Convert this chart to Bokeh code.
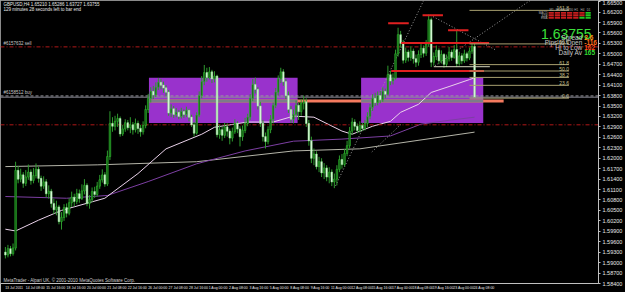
from bokeh.plotting import figure
from bokeh.models import ColumnDataSource, FixedTicker, Range1d, Label
from bokeh.embed import file_html
from bokeh.resources import INLINE
from bokeh.core.properties import value

# ---------------- data ----------------
title_line = "GBPUSD,H4  1.65210 1.65286 1.63727 1.63755"
timer_line = "129 minutes 28 seconds left to bar end"
copyright_line = "MetaTrader - Alpari UK, \u00a9 2001-2010 MetaQuotes Software Corp."

first_open = 1.5930
closes = [1.5922, 1.5940, 1.5926, 1.5942, 1.6165, 1.6140, 1.6152, 1.6128, 1.6146, 1.6160,
          1.6136, 1.6150, 1.6168, 1.6142, 1.6120, 1.6132, 1.6098, 1.6105, 1.6070, 1.6052,
          1.6060, 1.6018, 1.6030, 1.6058, 1.6042, 1.6072, 1.6088, 1.6076, 1.6098, 1.6084,
          1.6106, 1.6122, 1.6070, 1.6082, 1.6104, 1.6096, 1.6120, 1.6138, 1.6152, 1.6126,
          1.6205, 1.6300, 1.6292, 1.6306, 1.6314, 1.6270, 1.6284, 1.6302, 1.6288, 1.6296,
          1.6282, 1.6300, 1.6286, 1.6276, 1.6294, 1.6340, 1.6372, 1.6392, 1.6382, 1.6404,
          1.6418, 1.6410, 1.6402, 1.6390, 1.6330, 1.6342, 1.6326, 1.6332, 1.6320, 1.6334,
          1.6326, 1.6338, 1.6318, 1.6296, 1.6272, 1.6324, 1.6380, 1.6420, 1.6446, 1.6432,
          1.6448, 1.6428, 1.6436, 1.6268, 1.6282, 1.6266, 1.6290, 1.6278, 1.6258, 1.6276,
          1.6300, 1.6284, 1.6262, 1.6280, 1.6300, 1.6318, 1.6372, 1.6412, 1.6398, 1.6350,
          1.6300, 1.6262, 1.6248, 1.6282, 1.6312, 1.6352, 1.6390, 1.6428, 1.6448, 1.6420,
          1.6380, 1.6340, 1.6312, 1.6326, 1.6352, 1.6334, 1.6358, 1.6362, 1.6300, 1.6250,
          1.6200, 1.6212, 1.6176, 1.6190, 1.6158, 1.6172, 1.6146, 1.6160, 1.6132, 1.6140,
          1.6168, 1.6196, 1.6182, 1.6214, 1.6236, 1.6278, 1.6304, 1.6292, 1.6280, 1.6294,
          1.6286, 1.6300, 1.6320, 1.6346, 1.6372, 1.6360, 1.6380, 1.6368, 1.6392, 1.6384,
          1.6440, 1.6422, 1.6430, 1.6500, 1.6555, 1.6530, 1.6482, 1.6505, 1.6490, 1.6508,
          1.6486, 1.6476, 1.6498, 1.6516, 1.6502, 1.6528, 1.6598, 1.6476, 1.6492, 1.6510,
          1.6480, 1.6498, 1.6470, 1.6486, 1.6505, 1.6490, 1.6512, 1.6472, 1.6494, 1.6480,
          1.6500, 1.6488, 1.6508, 1.6521, 1.63755]
highs = [1.5945, 1.5951, 1.5948, 1.5955, 1.6190, 1.6178, 1.6170, 1.6160, 1.6166, 1.6182,
         1.6168, 1.6172, 1.6185, 1.6176, 1.6150, 1.6148, 1.6140, 1.6122, 1.6112, 1.6084,
         1.6078, 1.6066, 1.6045, 1.6068, 1.6070, 1.6085, 1.6104, 1.6098, 1.6112, 1.6110,
         1.6125, 1.6140, 1.6128, 1.6094, 1.6116, 1.6118, 1.6132, 1.6152, 1.6168, 1.6160,
         1.6222, 1.6335, 1.6318, 1.6322, 1.6328, 1.6320, 1.6296, 1.6312, 1.6310, 1.6318,
         1.6304, 1.6314, 1.6308, 1.6296, 1.6306, 1.6352, 1.6385, 1.6404, 1.6408, 1.6418,
         1.6430, 1.6428, 1.6420, 1.6410, 1.6396, 1.6355, 1.6350, 1.6344, 1.6338, 1.6345,
         1.6340, 1.6348, 1.6342, 1.6325, 1.6304, 1.6332, 1.6392, 1.6436, 1.6468, 1.6460,
         1.6462, 1.6454, 1.6450, 1.6440, 1.6296, 1.6290, 1.6302, 1.6300, 1.6285, 1.6288,
         1.6312, 1.6306, 1.6292, 1.6294, 1.6316, 1.6328, 1.6384, 1.6428, 1.6432, 1.6404,
         1.6362, 1.6310, 1.6274, 1.6292, 1.6324, 1.6360, 1.6402, 1.6438, 1.6460, 1.6456,
         1.6428, 1.6392, 1.6350, 1.6340, 1.6366, 1.6360, 1.6370, 1.6380, 1.6372, 1.6310,
         1.6262, 1.6228, 1.6220, 1.6204, 1.6200, 1.6186, 1.6180, 1.6174, 1.6168, 1.6156,
         1.6180, 1.6208, 1.6212, 1.6226, 1.6250, 1.6290, 1.6316, 1.6312, 1.6300, 1.6306,
         1.6302, 1.6310, 1.6332, 1.6356, 1.6384, 1.6388, 1.6392, 1.6394, 1.6404, 1.6400,
         1.6466, 1.6452, 1.6444, 1.6512, 1.6575, 1.6566, 1.6540, 1.6518, 1.6512, 1.6522,
         1.6515, 1.6498, 1.6510, 1.6528, 1.6524, 1.6540, 1.6613, 1.6604, 1.6504, 1.6524,
         1.6516, 1.6510, 1.6502, 1.6498, 1.6520, 1.6512, 1.6525, 1.6568, 1.6506, 1.6502,
         1.6512, 1.6506, 1.6518, 1.6528, 1.65286]
lows = [1.5912, 1.5915, 1.5918, 1.5920, 1.5935, 1.6128, 1.6131, 1.6115, 1.6120, 1.6138,
        1.6124, 1.6128, 1.6142, 1.6130, 1.6106, 1.6112, 1.6088, 1.6084, 1.6058, 1.6040,
        1.6036, 1.6010, 1.5995, 1.6020, 1.6030, 1.6036, 1.6060, 1.6062, 1.6068, 1.6072,
        1.6080, 1.6096, 1.6062, 1.6055, 1.6074, 1.6086, 1.6090, 1.6112, 1.6130, 1.6118,
        1.6120, 1.6195, 1.6276, 1.6280, 1.6290, 1.6262, 1.6264, 1.6276, 1.6280, 1.6272,
        1.6268, 1.6274, 1.6270, 1.6262, 1.6268, 1.6286, 1.6330, 1.6360, 1.6370, 1.6376,
        1.6396, 1.6398, 1.6388, 1.6378, 1.6322, 1.6318, 1.6316, 1.6318, 1.6312, 1.6314,
        1.6316, 1.6318, 1.6306, 1.6290, 1.6262, 1.6268, 1.6318, 1.6372, 1.6410, 1.6420,
        1.6426, 1.6416, 1.6418, 1.6260, 1.6256, 1.6250, 1.6258, 1.6262, 1.6240, 1.6248,
        1.6270, 1.6272, 1.6234, 1.6250, 1.6272, 1.6292, 1.6310, 1.6364, 1.6386, 1.6340,
        1.6290, 1.6248, 1.6228, 1.6240, 1.6272, 1.6300, 1.6344, 1.6380, 1.6416, 1.6408,
        1.6370, 1.6330, 1.6302, 1.6300, 1.6318, 1.6310, 1.6322, 1.6340, 1.6290, 1.6236,
        1.6186, 1.6180, 1.6168, 1.6160, 1.6146, 1.6140, 1.6134, 1.6128, 1.6120, 1.6114,
        1.6122, 1.6160, 1.6170, 1.6176, 1.6206, 1.6228, 1.6268, 1.6280, 1.6272, 1.6274,
        1.6278, 1.6280, 1.6290, 1.6312, 1.6336, 1.6350, 1.6352, 1.6358, 1.6362, 1.6372,
        1.6380, 1.6410, 1.6412, 1.6426, 1.6492, 1.6518, 1.6472, 1.6474, 1.6478, 1.6480,
        1.6472, 1.6462, 1.6466, 1.6488, 1.6490, 1.6494, 1.6520, 1.6462, 1.6466, 1.6482,
        1.6470, 1.6472, 1.6460, 1.6462, 1.6478, 1.6480, 1.6486, 1.6462, 1.6466, 1.6470,
        1.6474, 1.6478, 1.6482, 1.6500, 1.63727]

time_labels = ["13 Jul 2011", "14 Jul 08:00", "15 Jul 16:00", "18 Jul 16:00", "20 Jul 00:00",
               "21 Jul 08:00", "22 Jul 16:00", "26 Jul 00:00", "27 Jul 08:00", "28 Jul 16:00",
               "1 Aug 00:00", "2 Aug 08:00", "3 Aug 16:00", "5 Aug 00:00", "8 Aug 08:00",
               "9 Aug 16:00", "11 Aug 00:00", "12 Aug 08:00", "15 Aug 16:00", "17 Aug 00:00",
               "18 Aug 08:00", "19 Aug 16:00", "23 Aug 00:00", "24 Aug 08:00"]
time_label_step = 8

price_ticks = [1.5840, 1.5870, 1.5900, 1.5930, 1.5960, 1.5990, 1.6020, 1.6050, 1.6080, 1.6110,
               1.6140, 1.6170, 1.6200, 1.6230, 1.6260, 1.6290, 1.6320, 1.6350, 1.6380, 1.6410,
               1.6440, 1.6470, 1.6500, 1.6530, 1.6560, 1.6590, 1.6620, 1.6650]

# moving averages (bar, value)
ma_fast_bars = [0, 4, 13, 22, 39, 52, 63, 77, 82, 95, 105, 113, 121, 132, 136, 144, 151, 155, 162, 167, 174, 182, 184]
ma_fast_vals = [1.5996, 1.5991, 1.6022, 1.6050, 1.6085, 1.6156, 1.6227, 1.6269, 1.6289, 1.6304, 1.6304, 1.6321,
                1.6318, 1.6278, 1.6269, 1.6292, 1.6306, 1.6332, 1.6355, 1.6389, 1.6406, 1.6426, 1.6431]
ma_mid_bars = [0, 24, 40, 56, 75, 94, 113, 132, 151, 163, 174, 184]
ma_mid_vals = [1.6090, 1.6085, 1.6093, 1.6133, 1.6184, 1.6221, 1.6249, 1.6255, 1.6264, 1.6298, 1.6309, 1.6318]
ma_slow_bars = [0, 36, 75, 113, 139, 184]
ma_slow_vals = [1.6176, 1.6181, 1.6190, 1.6221, 1.6227, 1.6275]

# supply / demand zones
zone_left = [56.3, 139.5]
zone_right = [114.6, 187.4]
zone_top = [1.6431, 1.6431]
zone_bottom = [1.6301, 1.6301]
band_left, band_right = 56.3, 195.4
band_top, band_bottom = 1.6369, 1.6360

# order lines
sell_level = 1.6520
buy_level = 1.6379
stop_level = 1.6296
bid_price = 1.63755
sell_label = "#6157632 sell"
buy_label = "#6158512 buy"

# red swing markers
mark_price = [1.6611, 1.6588, 1.6568, 1.6531, 1.6451]
mark_start = [163.6, 150.1, 173.6, 155.2, 151.3]
mark_end = [171.6, 158.2, 181.6, 189.7, 187.7]
light_price, light_start, light_end = 1.6463, 168.0, 190.0

# dotted trend lines
trend_x0 = [129.5, 168.5, 166.7, 143.7]
trend_y0 = [1.6121, 1.6466, 1.6611, 1.6218]
trend_x1 = [164.0, 205.7, 192.3, 155.2]
trend_y1 = [1.6653, 1.6653, 1.6511, 1.6298]

# fibonacci retracement
fib_ratios = [0.0, 23.6, 38.2, 50.0, 61.8, 100.0, 161.8]
fib_names = ["0.0", "23.6", "38.2", "50.0", "61.8", "100.0", "161.8"]
fib_low, fib_high = 1.63727, 1.65286
fib_start, fib_end = 182.0, 221.0

# info panel
tf_names = ["M1", "M5", "M15", "M30", "H1", "H4", "D1"]
row_names = ["MACD", "STR", "EMA"]
signal_rows = [[0, 0, 0, 0, 0, 0, 1], [0, 0, 0, 0, 0, 0, 1], [0, 0, 0, 0, 0, 1, 1]]
info_names = ["Spread", "Pips to Open", "Hi to Low", "Daily Av"]
info_vals = ["2.6", "-116", "162", "165"]
info_cols = ["#ff9a1a", "#ff6a1a", "#ff4a1a", "#33dd33"]

# ---------------- drawing ----------------
FONT = "Liberation Sans"
x_lo, x_hi = -1.92, 232.6
y_lo, y_hi = 1.5840, 1.66533

def X(px):   # reference-pixel helper for decorations
    return (px - 5) / 2.61

def Y(py):
    return y_lo + (286 - py) * (y_hi - y_lo) / 286.0

p = figure(width=625, height=292, output_backend="svg", toolbar_location=None,
           x_range=Range1d(x_lo, x_hi), y_range=Range1d(y_lo, y_hi),
           y_axis_location="right", min_border=0)
p.background_fill_color = "black"
p.border_fill_color = "black"
p.outline_line_color = "#8a8a8a"
p.grid.visible = False

n = len(closes)
opens = [first_open] + closes[:-1]
idx = list(range(n))

# zones
p.quad(left=zone_left, right=zone_right, top=zone_top, bottom=zone_bottom,
       fill_color="#9932CC", line_color=None)
# band (salmon outside zones, grey where overlapped)
p.quad(left=[band_left], right=[band_right], top=[band_top], bottom=[band_bottom],
       fill_color="#f47a5f", line_color=None)
ov_l, ov_r = [], []
for zl, zr in zip(zone_left, zone_right):
    l, r = max(zl, band_left), min(zr, band_right)
    if r > l:
        ov_l.append(l); ov_r.append(r)
p.quad(left=ov_l, right=ov_r, top=[band_top] * len(ov_l), bottom=[band_bottom] * len(ov_l),
       fill_color="#7c7c88", line_color=None)

# moving averages
p.line(ma_slow_bars, ma_slow_vals, line_color="#b4b4a8", line_width=1)
p.line(ma_mid_bars, ma_mid_vals, line_color="#7d3fa3", line_width=1)
p.line(ma_fast_bars, ma_fast_vals, line_color="#ead2ea", line_width=1)

# dotted trend lines
p.segment(x0=trend_x0, y0=trend_y0, x1=trend_x1, y1=trend_y1,
          line_color="#9a9a9a", line_dash="1 2", line_width=1)

# order lines
p.line([x_lo, x_hi], [sell_level, sell_level], line_color="#b01818", line_dash="4 2 1 2", line_width=1)
p.line([x_lo, x_hi], [stop_level, stop_level], line_color="#b01818", line_dash="4 2 1 2", line_width=1)
p.line([x_lo, x_hi], [buy_level, buy_level], line_color="#9a9aa0", line_dash="3 2", line_width=1)
p.line([x_lo, x_hi], [bid_price, bid_price], line_color="#8c8c98", line_width=1)

# candles
bull = [c >= o for o, c in zip(opens, closes)]
hi_fix = [max(h, o, c) for h, o, c in zip(highs, opens, closes)]
lo_fix = [min(l, o, c) for l, o, c in zip(lows, opens, closes)]
src = ColumnDataSource(dict(
    x=idx, high=hi_fix, low=lo_fix,
    top=[max(o, c) + 0.00002 for o, c in zip(opens, closes)],
    bottom=[min(o, c) - 0.00002 for o, c in zip(opens, closes)],
    fill=["#145a14" if b else "#eaffea" for b in bull],
    line=["#2fbf2f" if b else "#8fe08f" for b in bull],
))
p.segment(x0="x", y0="low", x1="x", y1="high", source=src, line_color="#2e9a2e", line_width=1)
p.vbar(x="x", width=0.62, top="top", bottom="bottom", source=src,
       fill_color="fill", line_color="line", line_width=0.6)

# red swing markers and light level
p.segment(x0=mark_start, y0=mark_price, x1=mark_end, y1=mark_price, line_color="#e02020", line_width=2)
p.segment(x0=[light_start], y0=[light_price], x1=[light_end], y1=[light_price],
          line_color="#d8d8c0", line_width=1)

# fibonacci
fib_levels = [fib_low + r / 100.0 * (fib_high - fib_low) for r in fib_ratios]
p.segment(x0=[fib_start] * len(fib_levels), y0=fib_levels, x1=[fib_end] * len(fib_levels), y1=fib_levels,
          line_color="#a8a070", line_width=1)
p.text(x=[fib_end] * len(fib_levels), y=fib_levels, text=fib_names, text_align="right",
       text_baseline="bottom", text_font_size="5px", text_color="#c8c090", text_font=value(FONT))

# info panel: signal table
cw = 6.3 / 2.61
for k, name in enumerate(tf_names):
    p.add_layout(Label(x=X(561) + (k + 0.5) * cw, y=Y(9.5), text=name, text_font_size="3px",
                       text_color="#b0b0b0", text_align="center", text_baseline="middle", text_font=FONT))
for r, (rname, row) in enumerate(zip(row_names, signal_rows)):
    yc = 12.5 + 2.5 * r
    p.add_layout(Label(x=X(560), y=Y(yc), text=rname, text_font_size="3px", text_color="#b0b0b0",
                       text_align="right", text_baseline="middle", text_font=FONT))
    p.quad(left=[X(561) + k * cw for k in range(len(row))],
           right=[X(561) + (k + 0.85) * cw for k in range(len(row))],
           top=[Y(yc - 1.0)] * len(row), bottom=[Y(yc + 1.0)] * len(row),
           fill_color=["#22c822" if s else "#c81e1e" for s in row], line_color=None)

p.add_layout(Label(x=X(605), y=Y(33.5), text=f"{bid_price:.5f}", text_font_size="14px",
                   text_color="#3be03b", text_align="right", text_baseline="alphabetic", text_font=FONT))
for k, (nm, vl, cl) in enumerate(zip(info_names, info_vals, info_cols)):
    yy = Y(37 + 5.1 * k)
    p.add_layout(Label(x=X(595.5), y=yy, text=nm, text_font_size="6.5px", text_color="#c8c8c8",
                       text_align="right", text_baseline="middle", text_font=FONT))
    p.add_layout(Label(x=X(597.5), y=yy, text=vl, text_font_size="6.5px", text_color=cl,
                       text_align="left", text_baseline="middle", text_font=FONT, text_font_style="bold"))

# texts on the left
p.add_layout(Label(x=X(3), y=Y(4), text=title_line, text_font_size="4.5px", text_color="#e8e8e8",
                   text_baseline="middle", text_font=FONT))
p.add_layout(Label(x=X(3), y=Y(9.5), text=timer_line, text_font_size="4.5px", text_color="#e8e8e8",
                   text_baseline="middle", text_font=FONT))
p.add_layout(Label(x=X(3), y=sell_level, y_offset=1, text=sell_label, text_font_size="4.5px",
                   text_color="#c8c8c8", text_baseline="bottom", text_font=FONT))
p.add_layout(Label(x=X(3), y=buy_level, y_offset=1, text=buy_label, text_font_size="4.5px",
                   text_color="#c8c8c8", text_baseline="bottom", text_font=FONT))
p.add_layout(Label(x=X(3), y=Y(282.5), text=copyright_line, text_font_size="4.5px", text_color="#d0d0d0",
                   text_baseline="middle", text_font=FONT))

# axes
ya = p.yaxis[0]
ya.ticker = FixedTicker(ticks=price_ticks)
ya.major_label_overrides = {t: f"{t:.5f}" for t in price_ticks}
ya.major_label_text_font_size = "5.5px"
ya.major_label_text_color = "#e8e8e8"
ya.major_label_text_font = FONT
ya.axis_line_color = "#c0c0c0"
ya.major_tick_line_color = "#c0c0c0"
ya.major_tick_out = 2
ya.major_tick_in = 0
ya.minor_tick_line_color = None
ya.major_label_standoff = 2

# time scale: MetaTrader writes each date to the right of its bar, so the
# (centred) axis labels are placed half a label-width to the right of the bar.
xa = p.xaxis[0]
tick_pos = [k * time_label_step + 0.31 * len(lab) for k, lab in enumerate(time_labels)]
xa.ticker = FixedTicker(ticks=tick_pos)
xa.major_label_overrides = {t: lab for t, lab in zip(tick_pos, time_labels)}
xa.major_label_text_font_size = "3.5px"
xa.major_label_text_color = "#e8e8e8"
xa.major_label_text_font = FONT
xa.axis_line_color = "#c0c0c0"
xa.major_tick_line_color = None
xa.major_tick_out = 0
xa.major_tick_in = 0
xa.minor_tick_line_color = None
xa.major_label_standoff = 2

open("out.html", "w").write(file_html(p, INLINE))
